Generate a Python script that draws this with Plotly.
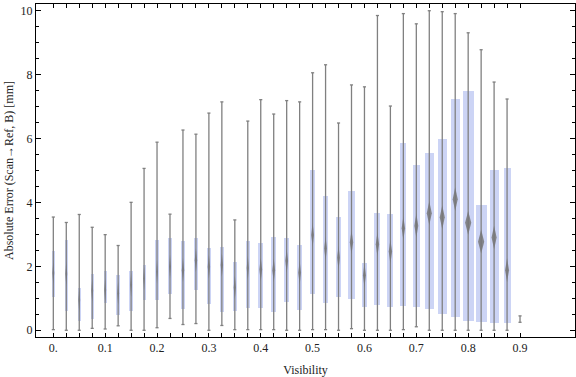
import plotly.graph_objects as go

# ---- data ----
visibility = [round(0.025 * i, 3) for i in range(37)]
whisker_min = [0.02, 0.0, 0.0, 0.06, 0.04, 0.14, 0.0,
               0.0, 0.08, 0.37, 0.18, 0.21, 0.0, 0.15,
               0.02, 0.02, 0.02, 0.02, 0.0, 0.0, 0.02, 0.02,
               0.0, 0.05, 0.0, 0.0, 0.0, 0.02, 0.11,
               0.0, 0.0, 0.0, 0.0, 0.0, 0.0, 0.0, 0.25]
q1 = [1.05, 0.60, 0.29, 0.36, 0.86, 0.47, 0.60,
      0.96, 0.94, 1.13, 0.66, 1.25, 0.82, 0.56,
      0.61, 0.69, 0.69, 0.56, 0.88, 0.63, 1.13, 0.85,
      1.04, 0.98, 0.73, 0.79, 0.73, 0.76, 0.73,
      0.67, 0.51, 0.42, 0.29, 0.26, 0.23, 0.23, 0.25]
median = [1.79, 1.77, 0.95, 1.24, 1.26, 1.16, 1.42,
          1.62, 1.83, 1.99, 1.88, 2.19, 1.99, 2.04,
          1.34, 1.95, 1.90, 1.88, 2.17, 1.80, 2.98, 2.56,
          2.27, 2.75, 1.72, 2.69, 2.46, 3.19, 3.27,
          3.66, 3.53, 4.10, 3.36, 2.77, 2.90, 1.88, None]
q3 = [2.49, 2.81, 1.32, 1.77, 1.85, 1.74, 1.85,
      2.04, 2.82, 2.88, 2.79, 2.88, 2.57, 2.60,
      2.13, 2.79, 2.73, 2.92, 2.88, 2.66, 5.02, 4.20,
      3.54, 4.36, 2.10, 3.67, 3.64, 5.86, 5.17,
      5.55, 5.99, 7.24, 7.49, 3.92, 5.02, 5.07, 0.25]
whisker_max = [3.54, 3.37, 3.62, 3.22, 2.99, 2.65, 4.00,
               5.06, 5.88, 3.63, 6.26, 6.13, 6.79, 7.14,
               3.45, 6.54, 7.21, 6.76, 7.18, 7.14, 8.05, 8.30,
               6.48, 7.67, 7.61, 9.84, 7.01, 9.90, 9.58,
               9.99, 9.96, 9.90, 9.30, 8.77, 7.76, 7.23, 0.45]
# relative box widths (in units of visibility)
box_width = [0.0064, 0.0064, 0.006, 0.0064, 0.0064, 0.0064, 0.0064,
             0.006, 0.006, 0.0068, 0.0083, 0.0083, 0.0083, 0.0083,
             0.0077, 0.0077, 0.0096, 0.0096, 0.0096, 0.0096, 0.0096, 0.0096,
             0.0096, 0.0116, 0.0102, 0.0116, 0.0116, 0.0116, 0.0135,
             0.0174, 0.0174, 0.0174, 0.0212, 0.0212, 0.0174, 0.0135, 0.0]
x_tickvals = visibility
x_ticktext = ["0." if i == 0 else (f"{v:.1f}" if i % 4 == 0 else "") for i, v in enumerate(visibility)]
y_tickvals = [0, 2, 4, 6, 8, 10]

BOX_COLOR = "rgb(204,212,245)"
WHISK_COLOR = "rgb(128,128,128)"
CAP = 0.003
DIAMOND_H = 0.37

fig = go.Figure()

# whiskers (with caps)
wx, wy = [], []
for x, lo, hi in zip(visibility, whisker_min, whisker_max):
    wx += [x, x, None, x - CAP, x + CAP, None, x - CAP, x + CAP, None]
    wy += [lo, hi, None, lo, lo, None, hi, hi, None]
fig.add_trace(go.Scatter(x=wx, y=wy, mode="lines",
                         line=dict(color=WHISK_COLOR, width=1.3),
                         hoverinfo="skip", showlegend=False))

# boxes
fig.add_trace(go.Bar(x=visibility, y=[b - a for a, b in zip(q1, q3)], base=q1,
                     width=box_width, marker=dict(color=BOX_COLOR, line=dict(width=0)),
                     showlegend=False))

# median diamonds
for x, m, w in zip(visibility, median, box_width):
    if m is None:
        continue
    hw = w * 0.28
    fig.add_trace(go.Scatter(
        x=[x, x + hw, x, x - hw, x], y=[m - DIAMOND_H, m, m + DIAMOND_H, m, m - DIAMOND_H],
        mode="lines", fill="toself", fillcolor="rgba(118,118,118,0.85)",
        line=dict(width=0, color="rgba(0,0,0,0)"), hoverinfo="skip", showlegend=False))

font = dict(family="Liberation Serif, Times New Roman, serif", size=12, color="#222")

fig.update_layout(
    width=576, height=377,
    margin=dict(l=36, r=1, t=4, b=40),
    paper_bgcolor="white", plot_bgcolor="white",
    bargap=0, showlegend=False, font=font,
    xaxis=dict(range=[-0.0334, 1.006], tickmode="array", tickvals=x_tickvals, ticktext=x_ticktext,
               ticks="inside", ticklen=4, tickcolor="black", tickwidth=1,
               showline=True, linecolor="black", linewidth=1, mirror="allticks",
               showgrid=False, zeroline=False,
               title=dict(text="Visibility", font=font, standoff=11)),
    yaxis=dict(range=[-0.21, 10.2], tickmode="array", tickvals=y_tickvals,
               ticks="inside", ticklen=5, tickcolor="black", tickwidth=1,
               minor=dict(dtick=0.5, ticks="inside", ticklen=3, tickcolor="black", tickwidth=1, showgrid=False),
               showline=True, linecolor="black", linewidth=1, mirror="allticks",
               showgrid=False, zeroline=False,
               title=dict(text="Absolute Error (Scan→Ref, B) [mm]", font=font, standoff=4)),
)

fig.write_html("out.html", config={"displayModeBar": False},
               post_script="document.body.style.margin='0px';document.body.style.overflow='hidden';")
